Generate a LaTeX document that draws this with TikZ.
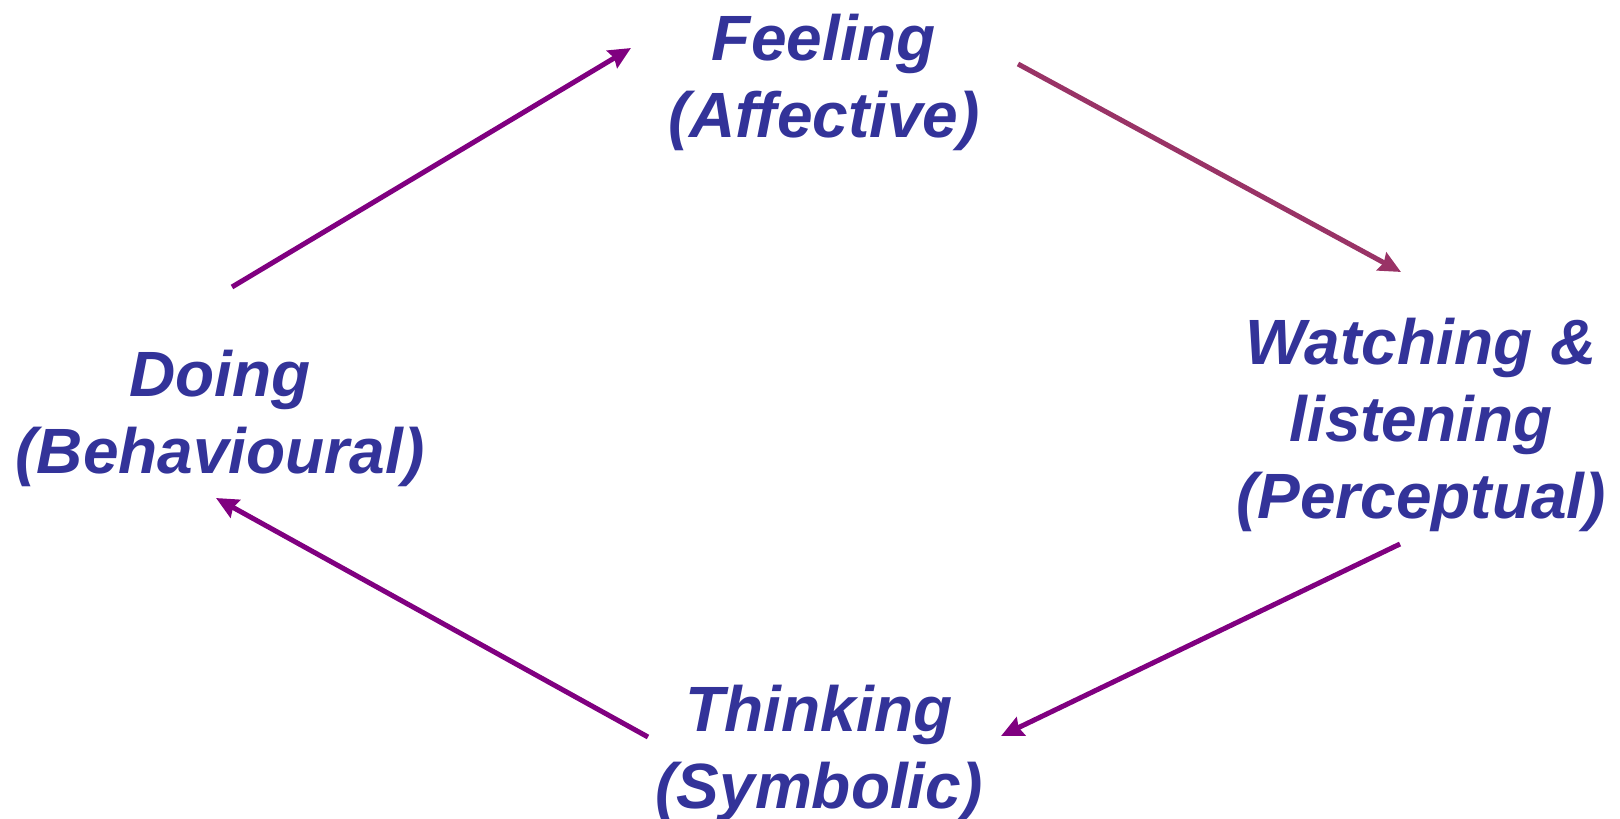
\documentclass[tikz,border=0pt]{standalone}
\usepackage{fontspec}
\setmainfont{Liberation Sans}
\newfontfamily\lblfont{Liberation Sans}[Ligatures={NoCommon}]
\usetikzlibrary{arrows.meta}
\definecolor{txtblue}{HTML}{333399}
\definecolor{arrpurple}{HTML}{800080}
\definecolor{arrmaroon}{HTML}{993366}
\begin{document}
\begin{tikzpicture}[x=1pt,y=-1pt,
  lbl/.style={align=center,anchor=base,inner sep=0pt,text=txtblue,
    font=\lblfont\fontsize{64}{77}\selectfont\bfseries\itshape},
  conn/.style={line width=5pt,-{Stealth[inset=2.5pt,length=22pt,width=20pt]}}]
\useasboundingbox (0,0) rectangle (1620,819);
\fill[white] (0,0) rectangle (1620,819);
\node[lbl] (feel) at (824,137) {Feeling\\(Affective)};
\node[lbl] (doing) at (220,473) {Doing\\(Behavioural)};
\node[lbl] (watch) at (1421,518) {Watching \&\\listening\\(Perceptual)};
\node[lbl] (think) at (819,808) {Thinking\\(Symbolic)};
\coordinate (a1s) at (232,287);
\coordinate (a1e) at (631,48);
\coordinate (a2s) at (1018,64);
\coordinate (a2e) at (1401,272);
\coordinate (a3s) at (1400,544);
\coordinate (a3e) at (1001,736);
\coordinate (a4s) at (648,737);
\coordinate (a4e) at (216,498);
\draw[conn,arrpurple] (a1s) -- (a1e);
\draw[conn,arrmaroon] (a2s) -- (a2e);
\draw[conn,arrpurple] (a3s) -- (a3e);
\draw[conn,arrpurple] (a4s) -- (a4e);
\end{tikzpicture}
\end{document}
